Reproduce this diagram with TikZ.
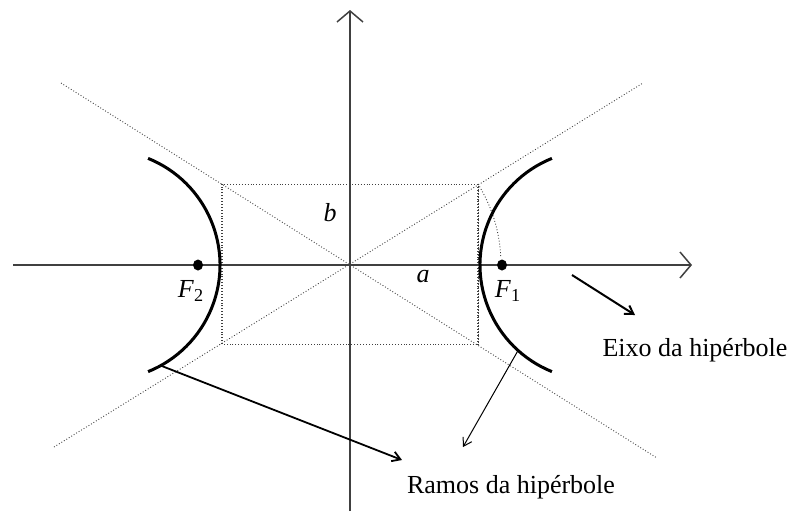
\documentclass[tikz,border=0pt]{standalone}
\usepackage{fontspec}
\setmainfont{Liberation Serif}
\usetikzlibrary{arrows.meta, calc, shapes.geometric}

\begin{document}
\begin{tikzpicture}[x=0.5pt, y=0.5pt, font=\fontsize{13}{15}\selectfont,
    axe/.style={black!75, line width=0.75pt, -{Straight Barb[length=5.5pt, width=13pt]}},
    aux/.style={black!75, line width=0.45pt, densely dotted},
    ramo/.style={black, line width=1.5pt},
    seta/.style={black, -{Straight Barb[length=4pt, width=5pt]}},
    foco/.style={ellipse, fill=black, inner sep=0pt, minimum width=5pt, minimum height=5.5pt}]

  \useasboundingbox (0,0) rectangle (792,-511);

  % ── Pontos de referência (a = 128, b = 80, c = 151) ──
  \coordinate (O)  at (350,-265);
  \coordinate (A1) at (478,-184);
  \coordinate (A2) at (222,-344);
  \coordinate (C1) at (595,-265); % centro do arco direito
  \coordinate (C2) at (105,-265); % centro do arco esquerdo

  % ── Assíntotas e retângulo ──
  \draw[aux] (61,-83) -- (657,-458);
  \draw[aux] (54,-447) -- (643,-83);
  \draw[aux] (A2) rectangle (A1);
  \draw[aux, line width=0.8pt] (A2) -- (A2 |- A1) (A1) -- (A1 |- A2);
  \draw[aux] (A1) arc[start angle=32, end angle=3, radius=151];

  % ── Eixos ──
  \draw[axe] (13,-265) -- (692,-265);
  \draw[axe] (350,-511) -- (350,-10);

  % ── Ramos ──
  \draw[ramo] (C1) ++(112:115) arc[start angle=112, end angle=248, radius=115];
  \draw[ramo] (C2) ++(68:115) arc[start angle=68, end angle=-68, radius=115];

  % ── Focos e rótulos ──
  \node[foco] (F1) at (502,-265) {};
  \node[foco] (F2) at (198,-265) {};
  \node (lF1) at (508,-291) {\textit{F}\textsubscript{1}};
  \node (lF2) at (191,-291) {\textit{F}\textsubscript{2}};
  \node (la) at (423,-277) {\textit{a}};
  \node (lb) at (330,-213) {\textit{b}};

  % ── Legendas ──
  \node (eixo)  at (695,-350) {Eixo da hipérbole};
  \node (ramos) at (511,-487) {Ramos da hipérbole};

  % ── Setas ──
  \coordinate (R1) at ($(C1)+(228:115)$);
  \coordinate (R2) at ($(C2)+(-61:115)$);
  \coordinate (eixoA) at (572,-275);
  \coordinate (eixoB) at (635,-315);
  \coordinate (ramoA) at (402,-460);
  \coordinate (ramoB) at (463,-447);
  \draw[seta, line width=1pt]   (eixoA) -- (eixoB);
  \draw[seta, line width=0.9pt] (R2) -- (ramoA);
  \draw[seta, line width=0.5pt] (R1) -- (ramoB);

\end{tikzpicture}
\end{document}
